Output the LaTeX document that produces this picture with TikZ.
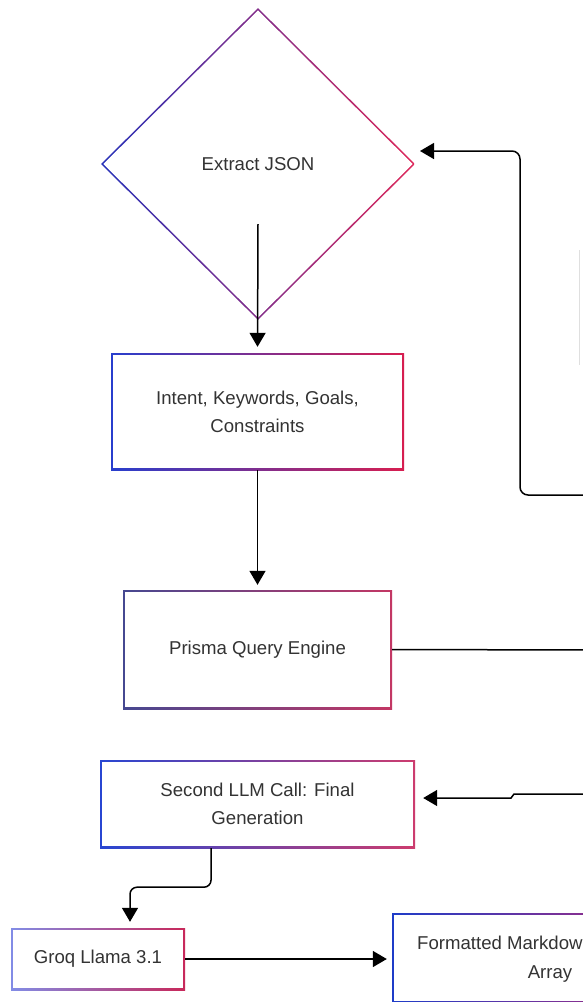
\documentclass[tikz,border=0pt]{standalone}
\usepackage{fontspec}
\setmainfont{Liberation Sans}
\usetikzlibrary{shapes.geometric,arrows.meta,calc}
\definecolor{txt}{HTML}{333333}
\definecolor{diaL}{RGB}{40,50,185}
\definecolor{diaR}{RGB}{222,40,90}
\definecolor{intL}{RGB}{40,62,205}
\definecolor{intR}{RGB}{215,30,80}
\definecolor{priL}{RGB}{70,72,145}
\definecolor{priR}{RGB}{195,55,100}
\definecolor{secL}{RGB}{40,70,210}
\definecolor{secR}{RGB}{205,60,110}
\definecolor{grqL}{RGB}{130,140,230}
\definecolor{grqR}{RGB}{200,40,90}
\definecolor{fmtL}{RGB}{30,60,200}
\definecolor{fmtR}{RGB}{200,40,110}
\newcommand{\diafont}{\fontsize{18.6}{28}\selectfont}
\tikzset{
  gbox/.style 2 args={rectangle, inner sep=0pt, align=center, font=\diafont, text=txt,
    path picture={
      \shade[left color=#1, right color=#2] (path picture bounding box.south west) rectangle (path picture bounding box.north east);
      \fill[white] ([shift={(1.6pt,1.6pt)}]path picture bounding box.south west) rectangle ([shift={(-1.6pt,-1.6pt)}]path picture bounding box.north east);
    }},
  gdia/.style 2 args={diamond, aspect=1, inner sep=0pt, font=\diafont, text=txt,
    path picture={
      \shade[left color=#1, right color=#2] (path picture bounding box.south west) rectangle (path picture bounding box.north east);
      \fill[white] ([yshift=-2.3pt]path picture bounding box.north) -- ([xshift=-2.3pt]path picture bounding box.east) -- ([yshift=2.3pt]path picture bounding box.south) -- ([xshift=2.3pt]path picture bounding box.west) -- cycle;
    }},
  conn/.style={draw=black, line width=1.5pt},
  arr/.style={conn, -{Triangle[width=16pt,length=14pt]}},
  plain/.style={font=\diafont, text=txt, inner sep=0pt},
}
\begin{document}
\begin{tikzpicture}[x=1pt,y=-1pt]
\useasboundingbox (0,0) rectangle (583,1002);
\clip (0,0) rectangle (583,1002);
\fill[white] (0,0) rectangle (583,1002);

% nodes
\node[gdia={diaL}{diaR}, minimum width=314pt, minimum height=312pt] (dia) at (258,164) {Extract JSON};
\node[gbox={intL}{intR}, minimum width=293pt, minimum height=117pt] (intent) at (257.5,411.5) {Intent, Keywords, Goals,\\Constraints};
\node[gbox={priL}{priR}, minimum width=269pt, minimum height=119pt] (prisma) at (257.5,649.5) {Prisma Query Engine};
\node[gbox={secL}{secR}, minimum width=315pt, minimum height=88pt] (second) at (257.5,804) {Second LLM Call: Final\\Generation};
\node[gbox={grqL}{grqR}, minimum width=174pt, minimum height=62pt] (groq) at (98,959) {Groq Llama 3.1};
\node[gbox={fmtL}{fmtR}, minimum width=316pt, minimum height=90pt] (fmt) at (550,958) {};
\node[plain, anchor=base west] (fmtA) at (417,949) {Formatted Markdown};
\node[plain, anchor=base] (fmtB) at (550,978) {Array};

% faint edge at right
\draw[gray!25, line width=1pt] (579,250) -- (579,365);

% free ends
\coordinate (rA) at (590,650);
\coordinate (rB) at (590,495);
\coordinate (rC) at (590,794);
\coordinate (loopTip) at (420,151);

% connectors
\draw[arr, shorten >=6pt] ($(dia.center)+(0,60)$) -- (intent.north);
\draw[arr, shorten >=5pt] (intent.south) -- (prisma.north);
\draw[conn] (prisma.east) -- (rA);
\draw[arr, rounded corners=8pt] (rB) -- (520,495) -- (520,151) -- (loopTip);
\draw[arr, shorten >=8pt] (rC) -- (514,794) -- (511,798) -- ([yshift=6pt]second.east);
\draw[arr, rounded corners=7pt, shorten >=6pt] ([xshift=-46.5pt]second.south) -- ++(0,39) -| ([xshift=32pt]groq.north);
\draw[arr, shorten >=5pt] (groq.east) -- (groq.east -| fmt.west);
\end{tikzpicture}
\end{document}
